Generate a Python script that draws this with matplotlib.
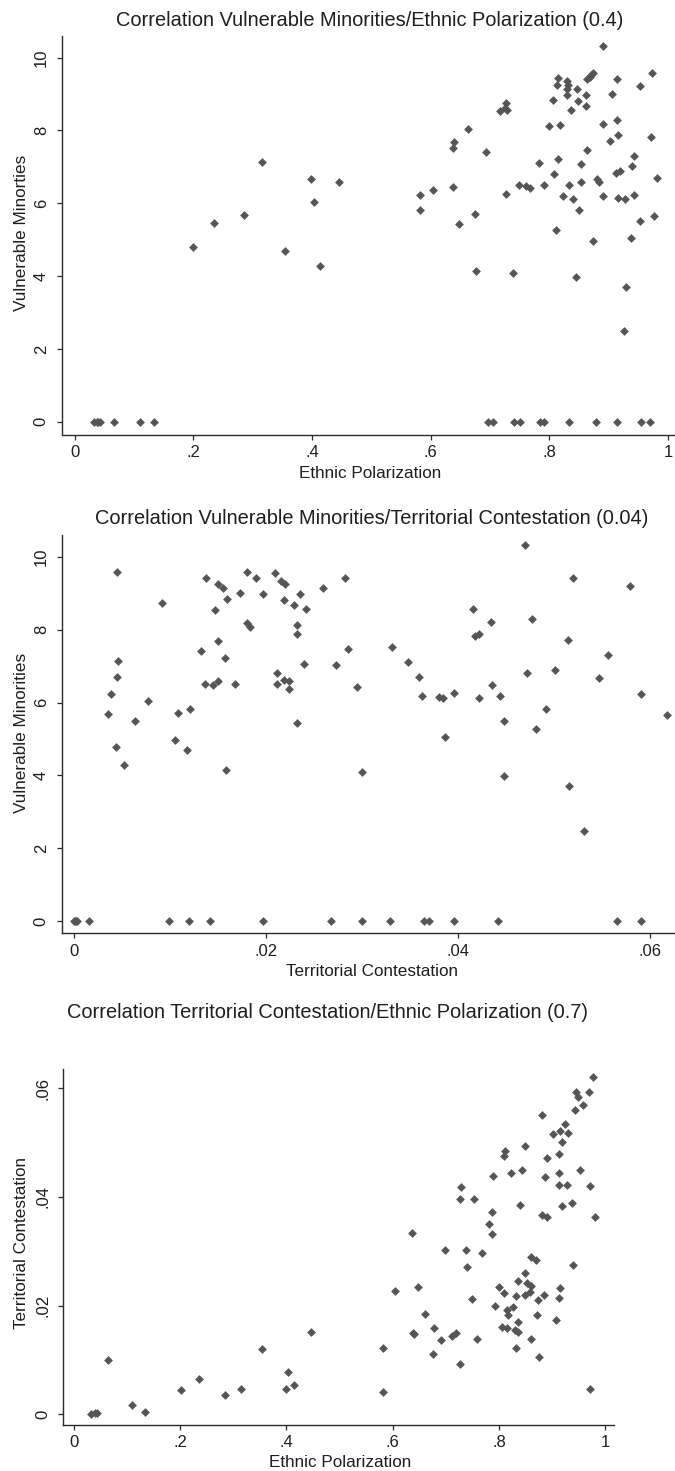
import matplotlib
matplotlib.use("Agg")
import matplotlib.pyplot as plt

plt.rcParams['font.family'] = ['Liberation Sans', 'DejaVu Sans']

# ---------------- Panel 1: Vulnerable Minorities vs Ethnic Polarization ----------------
p1_ethnic_pol = [0.033, 0.037, 0.040, 0.043, 0.066, 0.110, 0.133,
                 0.200, 0.235, 0.285, 0.316, 0.355, 0.399, 0.403, 0.413, 0.445,
                 0.891, 0.972, 0.914, 0.952, 0.906, 0.874, 0.870, 0.863, 0.869,
                 0.814, 0.812, 0.830, 0.832, 0.829, 0.847, 0.861, 0.829, 0.806,
                 0.848, 0.861, 0.836, 0.726, 0.725, 0.717, 0.729, 0.800, 0.817,
                 0.890, 0.914, 0.916, 0.902, 0.971, 0.662, 0.639, 0.637, 0.693,
                 0.863, 0.815, 0.943, 0.782, 0.853, 0.939, 0.808, 0.918, 0.912,
                 0.981, 0.880, 0.883, 0.853, 0.833, 0.790, 0.749, 0.761, 0.767,
                 0.638, 0.604, 0.581, 0.726, 0.822, 0.839, 0.890, 0.916, 0.927,
                 0.943, 0.581, 0.850, 0.674, 0.648, 0.953, 0.976, 0.811, 0.873,
                 0.937, 0.676, 0.738, 0.844, 0.929, 0.925,
                 0.697, 0.704, 0.740, 0.750, 0.784, 0.791, 0.833, 0.878, 0.914,
                 0.954, 0.969]
p1_vuln_min = [0, 0, 0, 0, 0, 0, 0,
               4.79, 5.47, 5.68, 7.13, 4.69, 6.68, 6.04, 4.29, 6.58,
               10.32, 9.58, 9.41, 9.21, 9.01, 9.59, 9.53, 9.41, 9.46,
               9.43, 9.24, 9.35, 9.24, 9.15, 9.13, 8.97, 8.97, 8.84,
               8.81, 8.66, 8.57, 8.75, 8.63, 8.53, 8.55, 8.13, 8.16,
               8.18, 8.29, 7.88, 7.71, 7.82, 8.05, 7.68, 7.52, 7.41,
               7.47, 7.23, 7.30, 7.10, 7.07, 7.03, 6.80, 6.90, 6.83,
               6.69, 6.67, 6.58, 6.59, 6.50, 6.50, 6.50, 6.48, 6.42,
               6.45, 6.36, 6.23, 6.25, 6.19, 6.12, 6.19, 6.15, 6.12,
               6.22, 5.81, 5.81, 5.71, 5.44, 5.51, 5.64, 5.28, 4.97,
               5.06, 4.15, 4.09, 3.98, 3.71, 2.49,
               0, 0, 0, 0, 0, 0, 0, 0, 0,
               0, 0]

# ---------------- Panel 2: Vulnerable Minorities vs Territorial Contestation ----------------
p2_terr_cont = [0.0000, 0.0001, 0.0002, 0.0003, 0.0015, 0.0099, 0.0120, 0.0142, 0.0197,
                0.0268, 0.0300, 0.0329, 0.0365, 0.0370, 0.0396, 0.0442, 0.0566, 0.0591,
                0.00447, 0.00917, 0.00457, 0.00443, 0.00384, 0.00767, 0.00353, 0.00638,
                0.00433, 0.00524, 0.01049, 0.01087, 0.01212, 0.01177, 0.01327, 0.01372,
                0.01368, 0.01448, 0.01501, 0.01469, 0.01501, 0.01504, 0.01549, 0.01591,
                0.01574, 0.01578, 0.01678, 0.01727, 0.01804, 0.01797, 0.01831, 0.01897,
                0.01970, 0.02099, 0.02161, 0.02196, 0.02189, 0.02113, 0.02113, 0.02187,
                0.02236, 0.02243, 0.02291, 0.02319, 0.02319, 0.02319, 0.02357, 0.02394,
                0.02422, 0.02596, 0.02729, 0.02819, 0.02857, 0.02951, 0.03006, 0.03319,
                0.03486, 0.03597, 0.03629, 0.03806, 0.03848, 0.03959, 0.03869, 0.04154,
                0.04178, 0.04217, 0.04345, 0.04220, 0.04359, 0.04436, 0.04481, 0.04481,
                0.04704, 0.04718, 0.04777, 0.04819, 0.04923, 0.05013, 0.05149, 0.05163,
                0.05205, 0.05319, 0.05472, 0.05563, 0.05792, 0.05907, 0.06178]
p2_vuln_min = [0, 0, 0, 0, 0, 0, 0, 0, 0,
               0, 0, 0, 0, 0, 0, 0, 0, 0,
               9.59, 8.74, 7.14, 6.69, 6.23, 6.05, 5.68, 5.48,
               4.79, 4.29, 4.96, 5.71, 5.81, 4.70, 7.41, 9.41,
               6.50, 6.47, 6.60, 8.54, 7.68, 9.25, 9.14, 8.84,
               7.23, 4.15, 6.50, 9.00, 9.59, 8.18, 8.07, 9.41,
               8.97, 9.55, 9.34, 9.25, 8.82, 6.82, 6.50, 6.62,
               6.59, 6.36, 8.67, 8.12, 7.88, 5.44, 8.97, 7.07,
               8.57, 9.15, 7.04, 9.41, 7.47, 6.43, 4.08, 7.52,
               7.11, 6.69, 6.18, 6.14, 6.12, 6.25, 5.06, 8.57,
               7.83, 7.88, 8.20, 6.12, 6.49, 6.18, 5.50, 3.98,
               10.33, 6.80, 8.30, 5.27, 5.82, 6.90, 7.72, 3.71,
               9.41, 2.48, 6.67, 7.31, 9.20, 6.22, 5.65]

# ---------------- Panel 3: Territorial Contestation vs Ethnic Polarization ----------------
p3_ethnic_pol = [0.0326, 0.040, 0.043, 0.0652, 0.1098, 0.1348, 0.2019, 0.2364, 0.2854,
                 0.3155, 0.355, 0.3995, 0.4033, 0.4146, 0.4472,
                 0.9768, 0.9444, 0.9494, 0.9689, 0.9576, 0.9432, 0.8811, 0.9250, 0.9018,
                 0.9150, 0.9300, 0.9181, 0.8491, 0.8121, 0.8090, 0.8905, 0.9131, 0.8235,
                 0.8435, 0.7889, 0.8873, 0.9137, 0.9137, 0.9281, 0.9526, 0.9720, 0.7287,
                 0.7275, 0.7526, 0.8398, 0.9188, 0.9376, 0.8811, 0.8911, 0.9808, 0.7864,
                 0.7814, 0.7864, 0.6365, 0.6986, 0.7375, 0.7682, 0.7394, 0.8610, 0.8705,
                 0.9394, 0.8491, 0.8353, 0.8524, 0.8610, 0.8002, 0.8090, 0.8579, 0.8491,
                 0.8322, 0.8842, 0.8742, 0.9150, 0.9137, 0.6045, 0.6478, 0.7494, 0.7927,
                 0.8147, 0.8166, 0.8272, 0.8723, 0.9068, 0.8353, 0.6616, 0.6786, 0.6390,
                 0.6403, 0.8059, 0.8159, 0.8303, 0.8353, 0.7111, 0.7193, 0.6916, 0.7594,
                 0.8604, 0.5813, 0.6759, 0.8328, 0.8749, 0.7275, 0.5813, 0.9720]
p3_terr_cont = [0.0000, 0.0002, 0.0003, 0.00994, 0.00172, 0.00037, 0.00442, 0.0065, 0.00356,
                0.00466, 0.01196, 0.00466, 0.00785, 0.0054, 0.01515,
                0.06209, 0.05939, 0.05834, 0.05926, 0.05687, 0.05595, 0.05503, 0.05344, 0.05160,
                0.05221, 0.05178, 0.05018, 0.04939, 0.04840, 0.04755, 0.04724, 0.04798, 0.04448,
                0.04497, 0.04387, 0.04362, 0.04436, 0.04227, 0.04227, 0.04503, 0.04202, 0.04178,
                0.03969, 0.03969, 0.03859, 0.03840, 0.03890, 0.03663, 0.03632, 0.03632, 0.03724,
                0.03497, 0.03313, 0.03337, 0.03025, 0.03018, 0.02975, 0.02706, 0.02890, 0.02840,
                0.02742, 0.02607, 0.02454, 0.02411, 0.02362, 0.02337, 0.02227, 0.02258, 0.02202,
                0.02178, 0.02202, 0.02104, 0.02331, 0.02135, 0.02264, 0.02337, 0.02129, 0.01994,
                0.01920, 0.01828, 0.01969, 0.01834, 0.01742, 0.01699, 0.01840, 0.01583, 0.01503,
                0.01479, 0.01601, 0.01583, 0.01546, 0.01509, 0.01442, 0.01491, 0.01362, 0.01380,
                0.01380, 0.01227, 0.01104, 0.01221, 0.01055, 0.00920, 0.00405, 0.00466]

ep_ticks = [0, 0.2, 0.4, 0.6, 0.8, 1.0]
ep_ticklabels = ["0", ".2", ".4", ".6", ".8", "1"]
vm_ticks = [0, 2, 4, 6, 8, 10]
vm_ticklabels = ["0", "2", "4", "6", "8", "10"]
tc_ticks = [0, 0.02, 0.04, 0.06]
tc_ticklabels = ["0", ".02", ".04", ".06"]

titles = ["Correlation Vulnerable Minorities/Ethnic Polarization (0.4)",
          "Correlation Vulnerable Minorities/Territorial Contestation (0.04)",
          "Correlation Territorial Contestation/Ethnic Polarization (0.7)"]

W, H = 675, 1471
fig = plt.figure(figsize=(W / 100, H / 100), dpi=100)
fig.patch.set_facecolor("white")

MARK = "#555555"
TXT = "#1e1e1e"
AX = "#2a2a2a"


def px_axes(left, top, right, bottom):
    return fig.add_axes([left / W, 1 - bottom / H, (right - left) / W, (bottom - top) / H])


def style(ax, xt, xtl, yt, ytl):
    for s in ["top", "right"]:
        ax.spines[s].set_visible(False)
    for s in ["left", "bottom"]:
        ax.spines[s].set_color(AX)
        ax.spines[s].set_linewidth(1.0)
    ax.set_xticks(xt)
    ax.set_xticklabels(xtl)
    ax.set_yticks(yt)
    ax.set_yticklabels(ytl, rotation=90, va="center")
    ax.tick_params(axis="both", direction="out", length=3.5, width=0.9,
                   color=AX, labelsize=12, labelcolor=TXT)
    ax.tick_params(axis="x", pad=4)
    ax.tick_params(axis="y", pad=6)
    ax.set_facecolor("white")


def ftext(x, y, s, size, rot=0):
    fig.text(x / W, 1 - y / H, s, ha="center", va="center", fontsize=size,
             color=TXT, rotation=rot)


# Panel 1
ax1 = px_axes(62, 36, 675, 434.5)
ax1.scatter(p1_ethnic_pol, p1_vuln_min, marker="D", s=20, color=MARK, linewidths=0)
ax1.set_xlim(-0.0214, 1.0115)
ax1.set_ylim(-0.348, 10.595)
style(ax1, ep_ticks, ep_ticklabels, vm_ticks, vm_ticklabels)
ftext(370, 20, titles[0], 14.4)
ftext(370, 473, "Ethnic Polarization", 12.3)
ftext(22, 233, "Vulnerable Minorties", 12.3, rot=90)

# Panel 2
ax2 = px_axes(62, 535, 675, 933.3)
ax2.scatter(p2_terr_cont, p2_vuln_min, marker="D", s=20, color=MARK, linewidths=0)
ax2.set_xlim(-0.00127, 0.06265)
ax2.set_ylim(-0.338, 10.6)
style(ax2, tc_ticks, tc_ticklabels, vm_ticks, vm_ticklabels)
ftext(372, 518, titles[1], 14.4)
ftext(372, 972, "Territorial Contestation", 12.3)
ftext(22, 733, "Vulnerable Minorities", 12.3, rot=90)

# Panel 3
ax3 = px_axes(63.3, 1069.3, 614, 1425)
ax3.scatter(p3_ethnic_pol, p3_terr_cont, marker="D", s=20, color=MARK, linewidths=0)
ax3.set_xlim(-0.0196, 1.0166)
ax3.set_ylim(-0.00197, 0.0635)
style(ax3, ep_ticks, ep_ticklabels, tc_ticks, tc_ticklabels)
ftext(327.5, 1012, titles[2], 14.4)
ftext(340, 1462.5, "Ethnic Polarization", 12.3)
ftext(22, 1243, "Territorial Contestation", 12.3, rot=90)

fig.savefig("out.png", dpi=100, facecolor="white")
